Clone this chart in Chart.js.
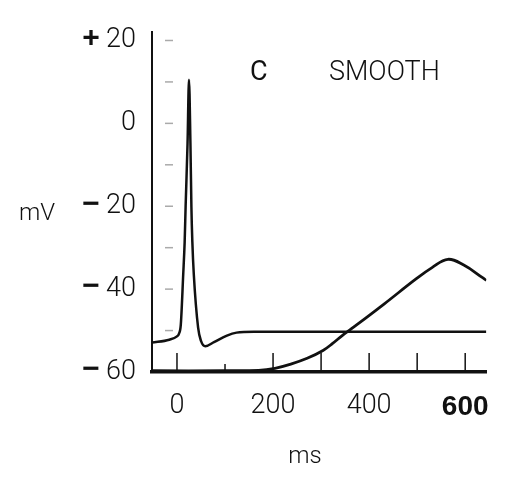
<!DOCTYPE html>
<html>
<head>
<meta charset="utf-8">
<script src="https://cdn.jsdelivr.net/npm/chart.js@4.4.1/dist/chart.umd.min.js"></script>
<style>
  body { margin: 0; background: #fff; }
  #wrap { width: 507px; height: 484px; }
</style>
</head>
<body>
<div id="wrap"><canvas id="myChart"></canvas></div>
<script>
// tick values
const xTickValues = [0, 200, 400, 600];
const xMinorTicks = [0, 100, 200, 300, 400, 500, 600];
const yTickValues = [-60, -40, -20, 0, 20];
const yMinorTicks = [-50, -40, -30, -20, -10, 0, 10, 20];

// fast spike trace (ms, mV)
const spikeTime = [-52, -16, 0, 4, 8, 13, 16, 18, 22, 25, 28, 30, 32, 35, 44, 50, 59, 77, 104, 124, 160, 644];
const spikeVoltage = [-52.9, -52.2, -51.4, -50.8, -48.5, -36.4, -28.6, -20, -4.8, 10.5, -4.8, -20, -28.6, -36.4, -49.3, -52.5, -53.8, -52.8, -51.2, -50.5, -50.3, -50.3];

// slow smooth wave (ms, mV)
const smoothTime = [-52, 100, 170, 204, 237, 271, 304, 324, 344, 364, 431, 497, 531, 564, 597, 637, 644];
const smoothVoltage = [-59.7, -59.7, -59.6, -59.1, -58.1, -56.7, -54.8, -53.1, -51.2, -49.5, -43.6, -37.6, -34.8, -32.8, -34.2, -37.3, -37.9];

const ink = "#111";
const fontFam = "Roboto, 'Liberation Sans', sans-serif";

const toPoints = (xs, ys) => xs.map((x, i) => ({ x: x, y: ys[i] }));

const decorPlugin = {
    id: "decor",
    afterDatasetsDraw(chart) {
        const ctx = chart.ctx;
        const xs = chart.scales.x;
        const ys = chart.scales.y;
        const area = chart.chartArea;
        ctx.save();
        // inner ticks on the time axis
        ctx.strokeStyle = ink;
        ctx.lineWidth = 1.5;
        xMinorTicks.forEach(v => {
            const px = xs.getPixelForValue(v);
            const len = v === 100 ? 8 : 19;
            ctx.beginPath();
            ctx.moveTo(px, area.bottom);
            ctx.lineTo(px, area.bottom - len);
            ctx.stroke();
        });
        // faint dashes inside the voltage axis
        ctx.strokeStyle = "#aaa";
        ctx.lineWidth = 1.5;
        yMinorTicks.forEach(v => {
            const py = ys.getPixelForValue(v);
            ctx.beginPath();
            ctx.moveTo(area.left + 13, py);
            ctx.lineTo(area.left + 21, py);
            ctx.stroke();
        });
        ctx.restore();
    },
    afterDraw(chart) {
        const ctx = chart.ctx;
        const ys = chart.scales.y;
        ctx.save();
        ctx.fillStyle = ink;
        ctx.textBaseline = "middle";
        // bold signs in front of the voltage labels
        ctx.font = "bold 30px 'Liberation Sans', sans-serif";
        ctx.textAlign = "center";
        yTickValues.forEach(v => {
            if (v === 0) return;
            ctx.fillText(v > 0 ? "+" : "\u2212", 91, ys.getPixelForValue(v) - 2);
        });
        // annotations
        ctx.textAlign = "left";
        ctx.font = "400 27px " + fontFam;
        ctx.fillText("C", 250, 73);
        ctx.font = "300 27px " + fontFam;
        ctx.fillText("SMOOTH", 329, 73);
        ctx.font = "300 24px " + fontFam;
        ctx.textAlign = "center";
        ctx.fillText("mV", 37, 214);
        ctx.fillText("ms", 305, 457);
        ctx.restore();
    }
};

const ctx = document.getElementById("myChart").getContext("2d");
const myChart = new Chart(ctx, {
    type: "line",
    data: {
        datasets: [
            {
                label: "spike",
                data: toPoints(spikeTime, spikeVoltage),
                borderColor: ink,
                borderWidth: 2.5,
                pointRadius: 0,
                cubicInterpolationMode: "monotone",
                fill: false,
            },
            {
                label: "smooth",
                data: toPoints(smoothTime, smoothVoltage),
                borderColor: ink,
                borderWidth: 2.8,
                pointRadius: 0,
                tension: 0.4,
                fill: false,
            },
        ],
    },
    options: {
        responsive: true,
        maintainAspectRatio: false,
        animation: false,
        layout: { padding: { top: 28, right: 7, bottom: 0, left: 0 } },
        plugins: {
            legend: { display: false },
            tooltip: { enabled: false },
        },
        scales: {
            x: {
                type: "linear",
                min: -52,
                max: 644,
                grid: { display: false, drawTicks: false },
                border: { display: true, color: ink, width: 3.5 },
                afterBuildTicks: (scale) => {
                    scale.ticks = xTickValues.map(v => ({ value: v }));
                },
                afterFit: (scale) => { scale.height = 112; },
                ticks: {
                    padding: 18,
                    color: ink,
                    font: (c) => (c.tick && c.tick.value === 600)
                        ? { family: "'Liberation Sans', sans-serif", size: 28, weight: "bold" }
                        : { family: fontFam, size: 27, weight: 300 },
                    maxRotation: 0,
                },
            },
            y: {
                type: "linear",
                min: -60,
                max: 22,
                grid: { display: false, drawTicks: false },
                border: { display: true, color: ink, width: 2 },
                afterBuildTicks: (scale) => {
                    scale.ticks = yTickValues.map(v => ({ value: v }));
                },
                afterFit: (scale) => { scale.width = 152; },
                ticks: {
                    padding: 16,
                    color: ink,
                    font: { family: fontFam, size: 27, weight: 300 },
                    callback: (v) => String(Math.abs(v)),
                },
            },
        },
    },
    plugins: [decorPlugin],
});
</script>
</body>
</html>
